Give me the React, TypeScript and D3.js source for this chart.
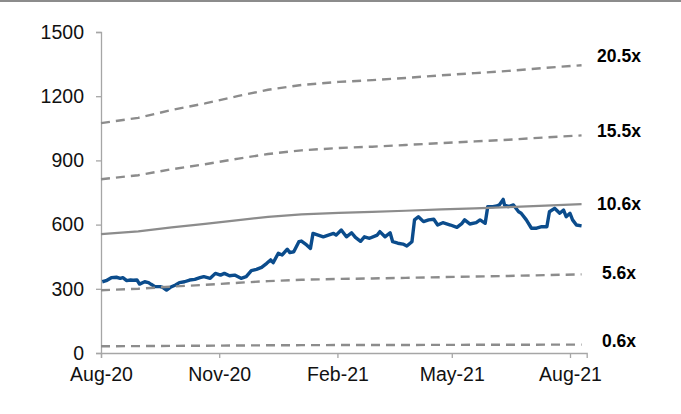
import React, { useEffect, useRef } from "react";
import * as d3 from "d3";

// ---- data ----
const multiples = [20.5, 15.5, 10.6, 5.6, 0.6];
const bandLabels = ["20.5x", "15.5x", "10.6x", "5.6x", "0.6x"];

const epsDates = [
  "2020-08-01", "2020-08-30", "2020-09-25", "2020-10-21", "2020-11-16",
  "2020-12-09", "2021-01-04", "2021-02-02", "2021-02-28", "2021-03-26",
  "2021-04-23", "2021-05-19", "2021-06-14", "2021-07-13", "2021-08-10",
];
const epsValues = [52.4, 53.6, 55.4, 56.9, 58.6, 60.0, 61.1, 61.8, 62.2, 62.7, 63.3, 63.8, 64.3, 65.0, 65.6];

const priceDates = [
  "2020-08-02", "2020-08-05", "2020-08-09", "2020-08-13", "2020-08-16", "2020-08-18", "2020-08-21", "2020-08-24",
  "2020-08-26", "2020-08-29", "2020-08-31", "2020-09-04", "2020-09-07", "2020-09-09", "2020-09-12", "2020-09-16",
  "2020-09-18", "2020-09-21", "2020-09-24", "2020-09-28", "2020-10-01", "2020-10-05", "2020-10-09", "2020-10-13",
  "2020-10-17", "2020-10-20", "2020-10-25", "2020-10-29", "2020-11-02", "2020-11-05", "2020-11-09", "2020-11-13",
  "2020-11-18", "2020-11-22", "2020-11-26", "2020-11-30", "2020-12-04", "2020-12-08", "2020-12-11", "2020-12-13",
  "2020-12-17", "2020-12-20", "2020-12-24", "2020-12-26", "2020-12-29", "2021-01-02", "2021-01-04", "2021-01-08",
  "2021-01-11", "2021-01-13", "2021-01-17", "2021-01-21", "2021-01-25", "2021-01-29", "2021-01-31", "2021-02-04",
  "2021-02-08", "2021-02-12", "2021-02-15", "2021-02-19", "2021-02-22", "2021-02-26", "2021-03-04", "2021-03-06",
  "2021-03-10", "2021-03-14", "2021-03-16", "2021-03-20", "2021-03-24", "2021-03-27", "2021-03-31", "2021-04-02",
  "2021-04-05", "2021-04-09", "2021-04-13", "2021-04-17", "2021-04-20", "2021-04-24", "2021-04-30", "2021-05-05",
  "2021-05-09", "2021-05-11", "2021-05-15", "2021-05-20", "2021-05-23", "2021-05-27", "2021-05-29", "2021-06-02",
  "2021-06-05", "2021-06-07", "2021-06-10", "2021-06-11", "2021-06-14", "2021-06-18", "2021-06-22", "2021-06-24",
  "2021-06-28", "2021-07-02", "2021-07-06", "2021-07-10", "2021-07-14", "2021-07-16", "2021-07-20", "2021-07-24",
  "2021-07-27", "2021-07-29", "2021-08-01", "2021-08-03", "2021-08-06", "2021-08-10",
];
const priceValues = [
  333, 338, 352, 354, 349, 352, 338, 341,
  340, 341, 322, 333, 329, 321, 310, 310,
  307, 294, 307, 318, 329, 333, 341, 344,
  352, 357, 349, 372, 364, 372, 361, 364,
  349, 357, 385, 391, 400, 419, 435, 422,
  466, 458, 485, 469, 473, 520, 523, 505,
  489, 559, 551, 543, 551, 559, 551, 575,
  543, 562, 540, 522, 543, 536, 551, 567,
  543, 562, 520, 513, 509, 500, 520, 622,
  637, 614, 622, 625, 598, 609, 598, 587,
  606, 622, 603, 609, 622, 606, 684, 684,
  687, 692, 718, 692, 684, 692, 660, 653,
  622, 583, 583, 590, 590, 660, 676, 653,
  668, 637, 653, 622, 598, 594,
];

const yTicks = [0, 300, 600, 900, 1200, 1500];
const xTickDates = ["2020-08-01", "2020-11-01", "2021-02-01", "2021-05-01", "2021-08-01"];
const xDomain = ["2020-08-01", "2021-08-14"];

// ---- layout / style ----
const W = 681;
const H = 414;
const left = 101;
const right = 586.7;
const top = 32;
const bottom = 353;
const labelDy = [-9, -5, 0, -2, -4];

export default function App() {
  const ref = useRef<SVGSVGElement | null>(null);

  useEffect(() => {
    document.body.style.margin = "0";
    const svg = d3.select(ref.current);
    svg.selectAll("*").remove();
    const parse = d3.timeParse("%Y-%m-%d");

    const x = d3.scaleTime().domain(xDomain.map((d) => parse(d) as Date)).range([left, right]);
    const y = d3.scaleLinear().domain([0, 1500]).range([bottom, top]);

    svg.append("rect").attr("x", 0).attr("y", 0).attr("width", W).attr("height", 2).attr("fill", "#8c8c8c");

    const axisColor = "#a6a6a6";
    const font = "'Liberation Sans', Arial, sans-serif";

    // y axis
    const yAxis = svg.append("g").attr("transform", `translate(${left},0)`).call(
      d3.axisLeft(y).tickValues(yTicks).tickSize(5).tickPadding(12).tickFormat(d3.format("d"))
    );
    yAxis.select(".domain").attr("stroke", axisColor).attr("stroke-width", 1.3);
    yAxis.selectAll(".tick line").attr("stroke", axisColor).attr("stroke-width", 1.3);
    yAxis.selectAll(".tick text").attr("fill", "#111").attr("font-size", 19.5).attr("font-family", font);

    // x axis
    const xAxis = svg.append("g").attr("transform", `translate(0,${bottom})`).call(
      d3.axisBottom(x).tickValues(xTickDates.map((d) => parse(d) as Date)).tickSize(5).tickPadding(9)
        .tickFormat((d) => d3.timeFormat("%b-%y")(d as Date))
    );
    xAxis.select(".domain").attr("stroke", axisColor).attr("stroke-width", 1.3);
    xAxis.selectAll(".tick line").attr("stroke", axisColor).attr("stroke-width", 1.3);
    xAxis.selectAll(".tick text").attr("fill", "#111").attr("font-size", 19.5).attr("font-family", font);

    // price
    const pts = priceDates.map((d, i) => [parse(d) as Date, priceValues[i]] as [Date, number]);
    const line = d3.line<[Date, number]>().x((d) => x(d[0])).y((d) => y(d[1]));
    svg.append("path").attr("d", line(pts)).attr("fill", "none").attr("stroke", "#0b4c8c")
      .attr("stroke-width", 3.4).attr("stroke-linejoin", "round");

    // bands
    const eps = epsDates.map((d, i) => [parse(d) as Date, epsValues[i]] as [Date, number]);
    multiples.forEach((m, k) => {
      const bpts = eps.map((e) => [e[0], e[1] * m] as [Date, number]);
      const solid = m === 10.6;
      svg.append("path").attr("d", line(bpts)).attr("fill", "none").attr("stroke", "#8c8c8c")
        .attr("stroke-width", solid ? 2.2 : 2.4)
        .attr("stroke-dasharray", solid ? null : "9,6");
      const last = bpts[bpts.length - 1];
      svg.append("text").attr("x", 619).attr("y", y(last[1]) + labelDy[k]).attr("dy", "0.35em")
        .attr("text-anchor", "middle").attr("font-family", font).attr("font-weight", "bold")
        .attr("font-size", 17.5).attr("fill", "#000").text(bandLabels[k]);
    });
  }, []);

  return <svg ref={ref} width={W} height={H} style={{ display: "block" }} />;
}
